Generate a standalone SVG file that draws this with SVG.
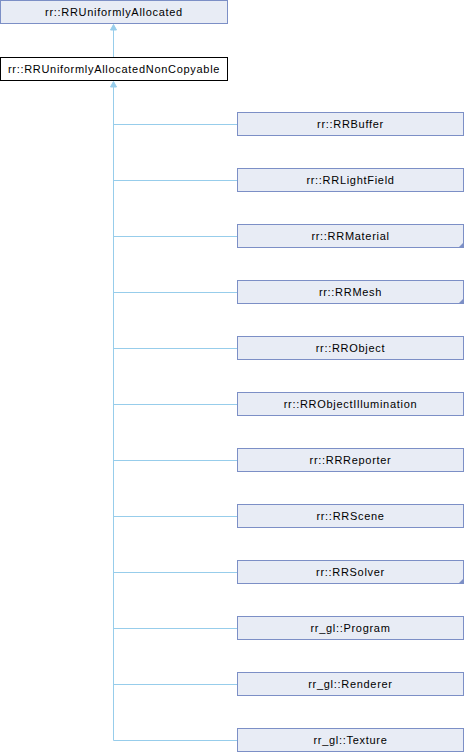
<svg xmlns="http://www.w3.org/2000/svg" width="464" height="752" viewBox="0 0 464 752">
  <style>
    .box { fill: #E8ECF5; stroke: #7C8FC6; stroke-width: 1; }
    .cur { fill: #FFFFFF; stroke: #000000; stroke-width: 1; }
    .lbl { font-family: "Liberation Sans", Arial, sans-serif; font-size: 11px; letter-spacing: 0.7px; fill: #000000; text-anchor: middle; }
    .edge { fill: none; stroke: #97CDEB; stroke-width: 1; }
    .head { fill: #97CDEB; stroke: #97CDEB; stroke-width: 1; }
    .more { fill: #7C8FC6; }
  </style>

  <!-- inheritance connectors -->
  <g id="edges">
    <path class="edge" d="M113.5,30 V57"/>
    <polygon class="head" points="113.5,24.5 110.5,30 116.5,30"/>
    <path class="edge" d="M113.5,87 V740.5"/>
    <polygon class="head" points="113.5,81.5 110.5,87 116.5,87"/>
    <path class="edge" d="M113.5,124.5 H237 M113.5,180.5 H237 M113.5,236.5 H237 M113.5,292.5 H237 M113.5,348.5 H237 M113.5,404.5 H237 M113.5,460.5 H237 M113.5,516.5 H237 M113.5,572.5 H237 M113.5,628.5 H237 M113.5,684.5 H237 M113.5,740.5 H237"/>
  </g>

  <g id="RRUniformlyAllocated">
    <rect class="box" x="0.5" y="0.5" width="227" height="23"/>
    <text class="lbl" x="114" y="16">rr::RRUniformlyAllocated</text>
  </g>
  <g id="RRUniformlyAllocatedNonCopyable">
    <rect class="cur" x="0.5" y="57.5" width="227" height="23"/>
    <text class="lbl" x="114" y="73">rr::RRUniformlyAllocatedNonCopyable</text>
  </g>

  <g id="RRBuffer">
    <rect class="box" x="237.5" y="112.5" width="226" height="23"/>
    <text class="lbl" x="350.5" y="128">rr::RRBuffer</text>
  </g>
  <g id="RRLightField">
    <rect class="box" x="237.5" y="168.5" width="226" height="23"/>
    <text class="lbl" x="350.5" y="184">rr::RRLightField</text>
  </g>
  <g id="RRMaterial">
    <rect class="box" x="237.5" y="224.5" width="226" height="23"/>
    <polygon class="more" points="464,242 464,248 458,248"/>
    <text class="lbl" x="350.5" y="240">rr::RRMaterial</text>
  </g>
  <g id="RRMesh">
    <rect class="box" x="237.5" y="280.5" width="226" height="23"/>
    <polygon class="more" points="464,298 464,304 458,304"/>
    <text class="lbl" x="350.5" y="296">rr::RRMesh</text>
  </g>
  <g id="RRObject">
    <rect class="box" x="237.5" y="336.5" width="226" height="23"/>
    <text class="lbl" x="350.5" y="352">rr::RRObject</text>
  </g>
  <g id="RRObjectIllumination">
    <rect class="box" x="237.5" y="392.5" width="226" height="23"/>
    <text class="lbl" x="350.5" y="408">rr::RRObjectIllumination</text>
  </g>
  <g id="RRReporter">
    <rect class="box" x="237.5" y="448.5" width="226" height="23"/>
    <text class="lbl" x="350.5" y="464">rr::RRReporter</text>
  </g>
  <g id="RRScene">
    <rect class="box" x="237.5" y="504.5" width="226" height="23"/>
    <text class="lbl" x="350.5" y="520">rr::RRScene</text>
  </g>
  <g id="RRSolver">
    <rect class="box" x="237.5" y="560.5" width="226" height="23"/>
    <polygon class="more" points="464,578 464,584 458,584"/>
    <text class="lbl" x="350.5" y="576">rr::RRSolver</text>
  </g>
  <g id="Program">
    <rect class="box" x="237.5" y="616.5" width="226" height="23"/>
    <text class="lbl" x="350.5" y="632">rr_gl::Program</text>
  </g>
  <g id="Renderer">
    <rect class="box" x="237.5" y="672.5" width="226" height="23"/>
    <text class="lbl" x="350.5" y="688">rr_gl::Renderer</text>
  </g>
  <g id="Texture">
    <rect class="box" x="237.5" y="728.5" width="226" height="23"/>
    <text class="lbl" x="350.5" y="744">rr_gl::Texture</text>
  </g>
</svg>
